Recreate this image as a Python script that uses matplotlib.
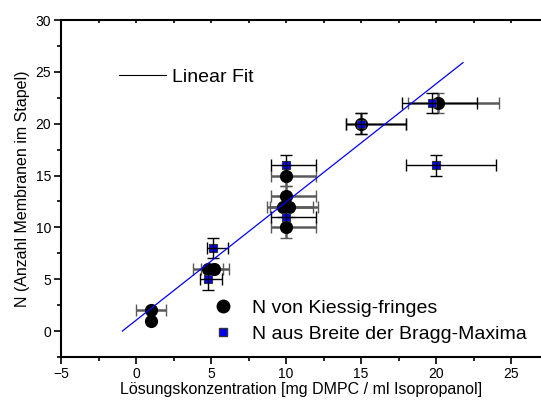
import numpy as np
import matplotlib
matplotlib.use('Agg')
from matplotlib import pyplot as plt
from matplotlib.lines import Line2D

plt.rcParams['font.family'] = ['Liberation Sans', 'DejaVu Sans']

# Kiessig fringes: centre, lower/upper x limits of the error bar, y error
kx = [1, 1, 4.8, 5.2, 9.8, 10.2, 10, 10, 10, 15, 20.15]
ky = [2, 1, 6, 6, 12, 12, 10, 13, 15, 20, 22]
kx_lo = [0, 1, 3.8, 4.3, 8.75, 8.95, 9, 9, 9, 14, 18.15]
kx_hi = [2, 1, 5.8, 6.2, 11.8, 12.1, 12, 12, 12, 18, 24.2]
ky_err = [0, 0, 0, 0, 1, 1, 1, 1, 1, 1, 1]

# width of the Bragg maxima
bx = [4.8, 5.15, 10, 10, 15, 19.7, 20]
by = [5, 8, 11, 16, 20, 22, 16]
bx_lo = [4.25, 4.7, 9, 9, 14, 17.75, 18]
bx_hi = [5.7, 6.15, 12, 12, 18, 22.75, 24]
by_err = [1, 1, 1, 1, 1, 1, 1]

# linear fit
fit_slope = 1.14
fit_icpt = 1.04
fit_x = [-0.91, 21.8]

fig = plt.figure(figsize=(5.41, 4.05), dpi=100)
ax = fig.add_axes([0.1128, 0.1185, 0.8872, 0.8321])

kx = np.array(kx); ky = np.array(ky)
kxerr = [kx - np.array(kx_lo), np.array(kx_hi) - kx]
eb = ax.errorbar(kx, ky, xerr=kxerr, yerr=ky_err, fmt='o', color='black',
                 ms=8.5, ecolor='#5a5a5a', elinewidth=1.8, capsize=4.5,
                 capthick=1.0, zorder=3)
for c in eb[1]:
    c.set_color('black')

bx = np.array(bx); by = np.array(by)
bxerr = [bx - np.array(bx_lo), np.array(bx_hi) - bx]
ax.plot(bx, by, 's', color='#0000ff', mec='#333333', mew=0.8, ms=5.5, zorder=4)
ax.errorbar(bx, by, xerr=bxerr, yerr=by_err, fmt='none', ecolor='black',
            elinewidth=1.0, capsize=4.5, capthick=1.0, zorder=5)

fx = np.array(fit_x)
ax.plot(fx, fit_slope * fx + fit_icpt, color='#0000ff', lw=0.9, zorder=6)

ax.set_xlim(-5, 27)
ax.set_ylim(-2.5, 30)
ax.set_xticks(np.arange(-5, 26, 5))
ax.set_xticks(np.arange(-5, 27, 2.5), minor=True)
ax.set_yticks(np.arange(0, 31, 5))
ax.set_yticks(np.arange(-2.5, 30.1, 2.5), minor=True)

for s in ['left', 'bottom', 'top']:
    ax.spines[s].set_linewidth(1.5)
ax.spines['right'].set_visible(False)

ax.tick_params(axis='both', which='both', direction='out', labelsize=10,
               width=1.2, pad=2)
ax.tick_params(axis='both', which='major', length=5)
ax.tick_params(axis='both', which='minor', length=3)
ax.tick_params(axis='x', which='both', top=True, labeltop=False)
# short inward ticks on the top axis
for t in ax.xaxis.get_ticklines(minor=False)[1::2] + ax.xaxis.get_ticklines(minor=True)[1::2]:
    t.set_marker(3)
    t.set_markersize(2.5)

ax.set_xlabel('Lösungskonzentration [mg DMPC / ml Isopropanol]', fontsize=11.5, labelpad=1)
ax.set_ylabel('N (Anzahl Membranen im Stapel)', fontsize=11.5, labelpad=4)

fit_leg = ax.legend([Line2D([], [], color='black', lw=0.8)], ['Linear Fit'],
                    loc='center left', bbox_to_anchor=(0.085, 0.831), frameon=False,
                    fontsize=14, handlelength=2.4, handletextpad=0.3)
ax.add_artist(fit_leg)

h1 = Line2D([], [], ls='none', marker='o', color='black', ms=9)
h2 = Line2D([], [], ls='none', marker='s', color='#0000ff', mec='#333333', ms=6)
ax.legend([h1, h2], ['N von Kiessig-fringes', 'N aus Breite der Bragg-Maxima'],
          loc='center left', bbox_to_anchor=(0.3, 0.107), frameon=False,
          fontsize=14, handlelength=1.0, handletextpad=1.0, labelspacing=0.45,
          borderaxespad=0)

fig.savefig('out.png', dpi=100)
